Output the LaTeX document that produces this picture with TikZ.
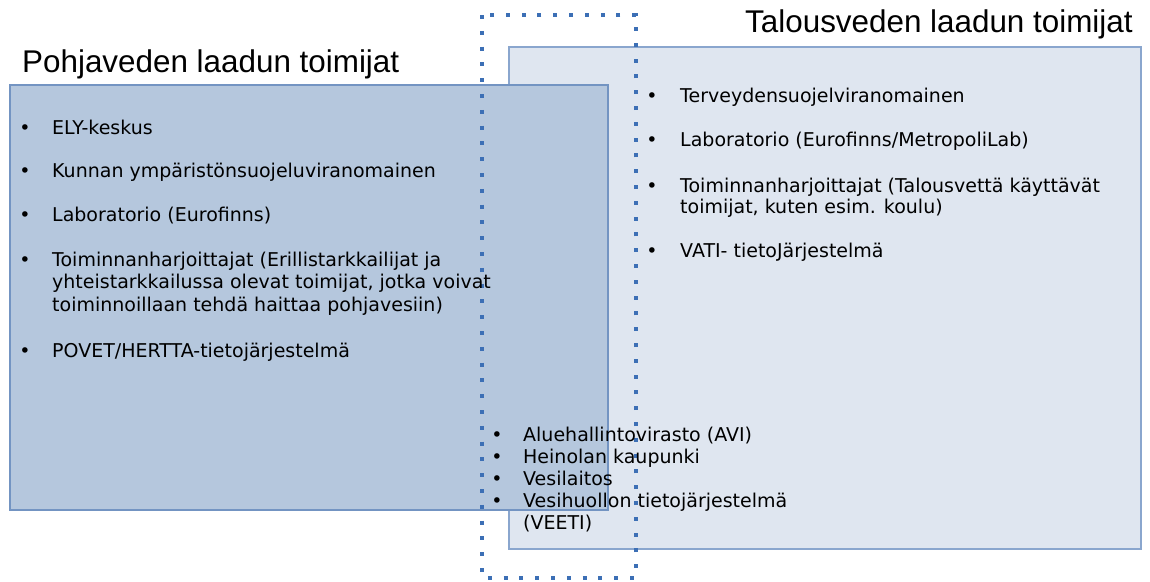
\documentclass[tikz,border=0pt]{standalone}
\usepackage{fontspec}
\setmainfont{DejaVu Sans}
\newfontfamily\titlefont{Liberation Sans}
\definecolor{gwfill}{HTML}{B5C7DD}
\definecolor{gwline}{HTML}{7394C2}
\definecolor{dwfill}{HTML}{DFE6F0}
\definecolor{dwline}{HTML}{8AA6CE}
\definecolor{dotblue}{HTML}{3C6FB5}
\begin{document}
\begin{tikzpicture}[x=1pt,y=-1pt,
  groupbox/.style={draw, line width=1.2pt},
  heading/.style={anchor=base west, inner sep=0pt, font=\titlefont\fontsize{31.4}{36}\selectfont},
  itemtext/.style={anchor=base west, inner sep=0pt, font=\fontsize{19}{22}\selectfont},
  bullet/.style={anchor=base, inner sep=0pt, font=\fontsize{19}{22}\selectfont}]
\useasboundingbox (0,0) rectangle (1150,581);
% drinking-water group (back) and groundwater group (front)
\draw[groupbox, draw=dwline, fill=dwfill] (509,47) rectangle (1141,549);
\draw[groupbox, draw=gwline, fill=gwfill] (10,85) rectangle (608,510);
% shared actors: dotted frame
\draw[dotblue, line width=4pt, dash pattern=on 4pt off 11.8pt] (482,15) rectangle (636,578);
% headings
\node[heading] (gwtitle) at (22,72) {Pohjaveden laadun toimijat};
\node[heading] (dwtitle) at (745,32) {Talousveden laadun toimijat};
% groundwater items
\node[bullet] (gb1) at (25,134) {•};
\node[itemtext] (g1) at (52,134) {ELY-keskus};
\node[bullet] (gb2) at (25,177) {•};
\node[itemtext] (g2) at (52,177) {Kunnan ympäristönsuojeluviranomainen};
\node[bullet] (gb3) at (25,221) {•};
\node[itemtext] (g3) at (52,221) {Laboratorio (Eurofinns)};
\node[bullet] (gb4) at (25,266) {•};
\node[itemtext] (g4a) at (52,266) {Toiminnanharjoittajat (Erillistarkkailijat ja};
\node[itemtext] (g4b) at (52,288.5) {yhteistarkkailussa olevat toimijat, jotka voivat};
\node[itemtext] (g4c) at (52,311) {toiminnoillaan tehdä haittaa pohjavesiin)};
\node[bullet] (gb5) at (25,357) {•};
\node[itemtext] (g5) at (52,357) {POVET/HERTTA-tietojärjestelmä};
% drinking-water items
\node[bullet] (db1) at (652,102) {•};
\node[itemtext] (d1) at (680,102) {Terveydensuojelviranomainen};
\node[bullet] (db2) at (652,146) {•};
\node[itemtext] (d2) at (680,146) {Laboratorio (Eurofinns/MetropoliLab)};
\node[bullet] (db3) at (652,192) {•};
\node[itemtext] (d3a) at (680,192) {Toiminnanharjoittajat (Talousvettä käyttävät};
\node[itemtext] (d3b) at (680,213.5) {toimijat, kuten esim. koulu)};
\node[bullet] (db4) at (652,257) {•};
\node[itemtext] (d4) at (680,257) {VATI- tietoJärjestelmä};
% shared items
\node[bullet] (sb1) at (497,441) {•};
\node[itemtext] (s1) at (523,441) {Aluehallintovirasto (AVI)};
\node[bullet] (sb2) at (497,463) {•};
\node[itemtext] (s2) at (523,463) {Heinolan kaupunki};
\node[bullet] (sb3) at (497,485) {•};
\node[itemtext] (s3) at (523,485) {Vesilaitos};
\node[bullet] (sb4) at (497,507) {•};
\node[itemtext] (s4a) at (523,507) {Vesihuollon tietojärjestelmä};
\node[itemtext] (s4b) at (523,529) {(VEETI)};
\end{tikzpicture}
\end{document}
